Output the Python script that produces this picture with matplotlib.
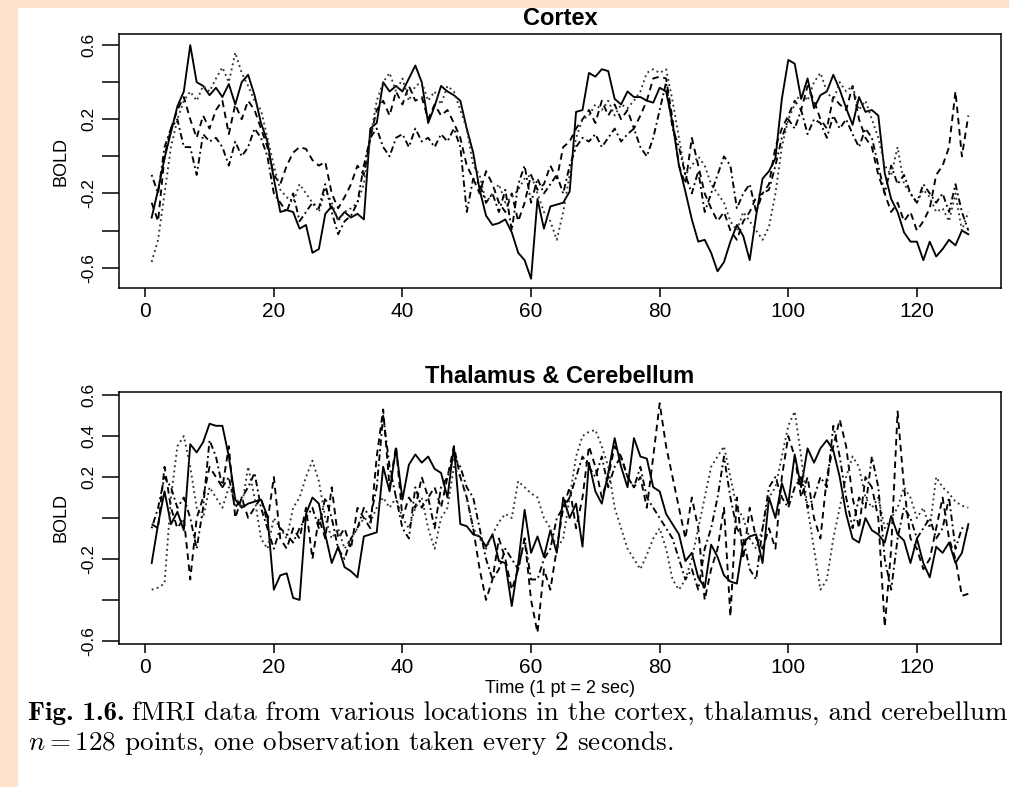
import numpy as np
import matplotlib
matplotlib.use('Agg')
import matplotlib.pyplot as plt
from matplotlib.patches import Rectangle

# ---------------- data ----------------
time = np.arange(1, 129)

cort1 = [-0.33, -0.18, -0.01, 0.13, 0.27, 0.35, 0.60, 0.40, 0.38, 0.33, 0.37, 0.32, 0.39, 0.28, 0.40, 0.44,
         0.33, 0.18, 0.08, -0.12, -0.30, -0.29, -0.30, -0.39, -0.37, -0.52, -0.50, -0.31, -0.27, -0.34, -0.30, -0.33,
         -0.31, -0.34, 0.15, 0.18, 0.40, 0.35, 0.38, 0.35, 0.42, 0.49, 0.40, 0.18, 0.27, 0.38, 0.35, 0.33,
         0.30, 0.15, 0.02, -0.18, -0.32, -0.37, -0.36, -0.34, -0.41, -0.52, -0.56, -0.66, -0.23, -0.39, -0.27, -0.26,
         -0.25, -0.19, 0.24, 0.25, 0.45, 0.43, 0.47, 0.46, 0.31, 0.28, 0.35, 0.32, 0.32, 0.30, 0.29, 0.37,
         0.35, 0.18, -0.05, -0.19, -0.34, -0.46, -0.45, -0.52, -0.62, -0.57, -0.46, -0.37, -0.43, -0.56, -0.32, -0.12,
         -0.08, -0.01, 0.31, 0.52, 0.50, 0.31, 0.42, 0.26, 0.33, 0.35, 0.44, 0.36, 0.26, 0.17, 0.32, 0.24,
         0.25, 0.22, -0.09, -0.23, -0.30, -0.41, -0.46, -0.46, -0.56, -0.46, -0.54, -0.50, -0.45, -0.48, -0.40, -0.42]
cort2 = [-0.25, -0.35, 0.00, 0.15, 0.25, 0.32, 0.20, 0.10, 0.22, 0.15, 0.25, 0.30, 0.12, 0.28, 0.20, 0.30,
         0.25, 0.15, 0.05, -0.10, -0.15, -0.05, 0.02, 0.05, 0.04, -0.02, -0.05, -0.03, -0.20, -0.28, -0.22, -0.15,
         -0.05, -0.10, 0.10, 0.25, 0.30, 0.22, 0.35, 0.28, 0.38, 0.30, 0.32, 0.20, 0.28, 0.22, 0.25, 0.18,
         0.10, -0.05, -0.12, -0.20, -0.08, -0.15, -0.25, -0.30, -0.20, -0.35, -0.25, -0.10, -0.18, -0.15, -0.05, -0.12,
         0.05, 0.08, 0.15, 0.20, 0.25, 0.18, 0.30, 0.22, 0.28, 0.20, 0.25, 0.15, 0.22, 0.30, 0.42, 0.43,
         0.42, 0.20, -0.05, -0.15, 0.10, -0.05, -0.20, -0.28, -0.35, -0.30, -0.40, -0.45, -0.35, -0.30, -0.22, -0.20,
         -0.15, 0.05, 0.15, 0.22, 0.30, 0.25, 0.38, 0.30, 0.20, 0.15, 0.32, 0.28, 0.25, 0.38, 0.20, 0.10,
         0.05, -0.10, -0.20, -0.30, -0.25, -0.35, -0.30, -0.40, -0.35, -0.28, -0.10, -0.05, 0.05, 0.35, 0.00, 0.22]
cort3 = [-0.57, -0.45, -0.20, 0.05, 0.20, 0.30, 0.35, 0.30, 0.38, 0.35, 0.42, 0.48, 0.40, 0.56, 0.45, 0.38,
         0.30, 0.25, 0.10, -0.05, -0.18, -0.22, -0.25, -0.15, -0.20, -0.25, -0.30, -0.18, -0.25, -0.35, -0.30, -0.28,
         -0.25, -0.15, 0.10, 0.30, 0.40, 0.45, 0.35, 0.42, 0.30, 0.38, 0.40, 0.30, 0.35, 0.28, 0.38, 0.35,
         0.25, 0.15, -0.05, -0.10, -0.25, -0.20, -0.15, -0.25, -0.22, -0.18, -0.12, -0.10, -0.20, -0.30, -0.35, -0.45,
         -0.30, -0.10, 0.10, 0.20, 0.22, 0.28, 0.25, 0.30, 0.22, 0.28, 0.26, 0.30, 0.35, 0.45, 0.47, 0.45,
         0.47, 0.30, 0.10, -0.10, -0.05, 0.00, -0.05, -0.15, -0.20, -0.25, -0.35, -0.40, -0.30, -0.35, -0.40, -0.45,
         -0.38, -0.20, 0.05, 0.20, 0.28, 0.35, 0.30, 0.40, 0.45, 0.35, 0.30, 0.40, 0.35, 0.38, 0.25, 0.30,
         0.20, 0.10, -0.05, -0.10, 0.05, -0.15, -0.20, -0.25, -0.18, -0.22, -0.30, -0.28, -0.35, -0.20, -0.40, -0.30]
cort4 = [-0.10, -0.20, 0.05, 0.15, 0.20, 0.05, 0.05, -0.10, 0.12, 0.08, 0.10, 0.05, -0.05, 0.08, 0.00, 0.05,
         0.15, 0.10, 0.00, -0.20, -0.25, -0.30, -0.20, -0.35, -0.30, -0.25, -0.28, -0.15, -0.30, -0.42, -0.35, -0.32,
         -0.25, -0.05, 0.10, 0.15, 0.05, 0.00, 0.10, 0.12, 0.05, 0.15, 0.08, 0.10, 0.05, 0.12, 0.08, 0.15,
         0.05, -0.30, -0.12, -0.15, -0.25, -0.20, -0.30, -0.18, -0.40, -0.15, -0.05, -0.25, -0.12, -0.20, -0.15, -0.10,
         -0.20, -0.05, 0.05, 0.10, 0.08, 0.12, 0.05, 0.10, 0.15, 0.08, 0.12, 0.15, 0.05, 0.00, 0.10, 0.25,
         0.40, 0.15, 0.05, -0.10, -0.20, -0.08, -0.30, -0.20, -0.10, 0.00, -0.05, -0.28, -0.20, -0.15, -0.30, -0.20,
         -0.18, -0.05, 0.10, 0.20, 0.15, 0.25, 0.12, 0.20, 0.18, 0.10, 0.22, 0.15, 0.20, 0.12, 0.05, 0.15,
         0.10, -0.05, -0.20, -0.05, -0.15, -0.10, -0.20, -0.25, -0.15, -0.20, -0.25, -0.20, -0.30, -0.15, -0.30, -0.40]

thal1 = [-0.22, -0.03, 0.13, -0.03, 0.03, -0.06, 0.36, 0.32, 0.37, 0.46, 0.45, 0.45, 0.30, 0.09, 0.05, 0.07,
         0.08, 0.09, 0.01, -0.35, -0.28, -0.27, -0.39, -0.40, 0.02, 0.10, 0.07, -0.08, -0.22, -0.14, -0.24, -0.26,
         -0.29, -0.09, -0.08, -0.07, 0.25, 0.13, 0.34, 0.09, 0.26, 0.31, 0.27, 0.30, 0.24, 0.22, 0.10, 0.35,
         -0.03, -0.04, -0.08, -0.09, -0.14, -0.08, -0.21, -0.22, -0.43, -0.22, 0.04, -0.17, -0.09, -0.19, -0.06, -0.17,
         0.10, 0.00, 0.07, -0.14, 0.27, 0.13, 0.07, 0.22, 0.39, 0.25, 0.15, 0.39, 0.30, 0.29, 0.15, 0.13,
         0.02, -0.03, -0.08, -0.21, -0.17, -0.29, -0.34, -0.13, -0.19, -0.28, -0.31, -0.32, -0.12, -0.09, -0.08, -0.22,
         0.10, 0.00, 0.17, 0.07, 0.31, 0.15, 0.34, 0.27, 0.34, 0.38, 0.33, 0.20, 0.02, -0.10, -0.12, 0.00,
         -0.06, -0.08, -0.12, 0.01, -0.08, -0.11, -0.22, -0.10, -0.22, -0.29, -0.14, -0.17, -0.12, -0.22, -0.17, -0.03]
thal2 = [-0.03, -0.05, 0.25, 0.05, -0.05, 0.00, -0.30, 0.00, 0.10, 0.25, 0.20, 0.15, 0.35, 0.00, 0.10, 0.00,
         0.05, 0.10, -0.02, 0.20, -0.10, -0.15, -0.05, -0.10, 0.05, -0.20, 0.00, -0.10, 0.15, -0.10, -0.05, -0.15,
         0.05, 0.00, -0.05, 0.30, 0.53, 0.15, 0.35, 0.00, 0.10, 0.05, 0.20, 0.10, 0.15, 0.05, 0.20, 0.35,
         0.20, 0.10, -0.05, -0.25, -0.40, -0.30, -0.10, -0.20, -0.35, -0.25, -0.10, -0.40, -0.56, -0.25, -0.35, -0.15,
         0.05, 0.15, -0.05, 0.10, 0.35, 0.25, 0.10, 0.20, 0.35, 0.30, 0.20, 0.15, 0.20, 0.05, 0.30, 0.56,
         0.35, 0.20, 0.05, -0.10, 0.10, -0.05, -0.40, -0.25, -0.15, 0.05, -0.48, 0.10, -0.20, 0.05, -0.10, -0.15,
         -0.05, -0.15, 0.20, 0.40, 0.30, 0.10, 0.20, 0.00, -0.10, 0.20, 0.35, 0.48, 0.35, 0.10, -0.05, 0.20,
         0.15, 0.00, -0.53, -0.15, 0.52, 0.15, -0.10, -0.15, -0.25, -0.20, -0.05, 0.10, -0.10, -0.20, -0.38, -0.37]
cere1 = [-0.35, -0.34, -0.32, 0.10, 0.35, 0.40, 0.25, 0.05, 0.00, 0.15, 0.10, 0.05, 0.15, 0.10, 0.05, 0.25,
         0.10, -0.10, -0.15, 0.00, -0.05, -0.10, 0.05, 0.10, 0.20, 0.28, 0.18, 0.00, -0.10, -0.05, -0.15, -0.10,
         -0.05, 0.00, -0.02, 0.05, 0.10, 0.05, 0.10, 0.00, -0.05, 0.05, 0.10, -0.05, -0.15, 0.00, 0.05, 0.25,
         0.20, 0.10, -0.05, -0.10, -0.15, -0.08, -0.02, 0.02, 0.00, 0.18, 0.15, 0.12, 0.10, 0.00, -0.05, -0.15,
         -0.10, 0.10, 0.30, 0.40, 0.42, 0.43, 0.35, 0.25, 0.05, -0.05, -0.15, -0.20, -0.25, -0.18, -0.10, -0.05,
         -0.15, -0.30, -0.35, -0.30, -0.20, -0.05, 0.10, 0.25, 0.30, 0.35, 0.20, 0.05, 0.00, -0.10, -0.15, -0.05,
         0.10, 0.15, 0.30, 0.45, 0.52, 0.30, 0.05, -0.15, -0.35, -0.30, -0.10, 0.05, 0.20, 0.30, 0.25, 0.10,
         0.05, 0.10, -0.05, 0.00, 0.05, 0.15, 0.10, 0.00, 0.05, -0.05, 0.20, 0.15, 0.12, 0.08, 0.06, 0.05]
cere2 = [-0.05, 0.05, 0.20, 0.15, 0.05, 0.10, 0.00, -0.15, 0.05, 0.38, 0.30, 0.15, 0.20, 0.05, 0.10, 0.15,
         0.22, 0.05, -0.05, -0.15, -0.05, -0.08, -0.12, -0.05, 0.00, 0.05, -0.05, 0.10, 0.00, -0.15, -0.20, -0.10,
         -0.05, 0.05, 0.00, 0.15, 0.50, 0.25, 0.10, -0.05, -0.10, 0.15, 0.05, 0.10, -0.05, 0.15, 0.20, 0.30,
         0.25, 0.15, 0.10, -0.05, -0.20, -0.30, -0.25, -0.15, -0.20, -0.25, -0.10, -0.30, -0.30, -0.20, -0.15, 0.00,
         0.05, 0.10, 0.20, 0.30, 0.25, 0.20, 0.30, 0.15, 0.25, 0.30, 0.20, 0.15, 0.25, 0.10, 0.05, 0.00,
         -0.05, -0.10, -0.20, -0.30, -0.25, -0.35, -0.15, -0.05, 0.10, 0.30, 0.10, -0.05, -0.10, -0.25, -0.30, -0.05,
         0.15, 0.20, 0.10, 0.05, 0.15, 0.20, 0.05, 0.10, 0.20, 0.15, 0.45, 0.30, 0.10, -0.05, 0.10, 0.05,
         0.30, 0.15, -0.20, -0.35, -0.10, 0.05, 0.00, -0.10, -0.05, 0.00, -0.10, -0.05, 0.10, -0.15, -0.05, -0.05]

xticks = [0, 20, 40, 60, 80, 100, 120]
yticks = [-0.6, -0.4, -0.2, 0.0, 0.2, 0.4, 0.6]
ylabels_top = ['-0.6', '', '-0.2', '', '0.2', '', '0.6']
ylabels_bot = ['-0.6', '', '-0.2', '', '0.2', '0.4', '0.6']
titles = ['Cortex', 'Thalamus & Cerebellum']

for s in (cort1, cort2, cort3, cort4, thal1, thal2, cere1, cere2):
    if len(s) != 128:
        raise ValueError(f'series length {len(s)}')

# ---------------- figure ----------------
plt.rcParams['font.family'] = ['Liberation Sans', 'DejaVu Sans']
plt.rcParams['mathtext.fontset'] = 'cm'

W, H = 1009, 787
fig = plt.figure(figsize=(W / 100, H / 100), dpi=100, facecolor='#fde3cc')
fig.patches.append(Rectangle((18 / W, 0), 1, 1 - 8 / H, transform=fig.transFigure,
                             facecolor='white', edgecolor='none', zorder=-5))


def px_axes(l, t, r, b):
    return [l / W, 1 - b / H, (r - l) / W, (b - t) / H]


ax1 = fig.add_axes(px_axes(119, 34, 1001, 288))
ax2 = fig.add_axes(px_axes(119, 392, 1001, 644))

styles = ['-', (0, (3.5, 2.5)), (0, (1, 1.8)), (0, (1, 1.8, 3.5, 1.8))]
colors = ['black', 'black', '#333333', 'black']

for ax, group, ylab, title, ylim in (
        (ax1, (cort1, cort2, cort3, cort4), ylabels_top, titles[0], (-0.71, 0.66)),
        (ax2, (thal1, thal2, cere1, cere2), ylabels_bot, titles[1], (-0.615, 0.615))):
    for s, ls, c in zip(group, styles, colors):
        ax.plot(time, s, linestyle=ls, color=c, lw=1.35)
    ax.set_xlim(-4.08, 133.08)
    ax.set_ylim(*ylim)
    ax.set_xticks(xticks)
    ax.set_xticklabels([str(v) for v in xticks])
    ax.set_yticks(yticks)
    ax.set_yticklabels(ylab)
    ax.tick_params(axis='x', length=6.5, width=1.1, pad=3.5, labelsize=15)
    ax.tick_params(axis='y', length=12.5, width=1.1, pad=4, labelsize=12.5, labelrotation=90)
    for lab in ax.get_yticklabels():
        lab.set_va('center')
    for sp in ax.spines.values():
        sp.set_linewidth(1.1)
    ax.set_title(title, fontweight='bold', fontsize=17, pad=6.5)
    ax.set_ylabel('BOLD', fontsize=13)
    ax.yaxis.set_label_coords((61 - 119) / 882, 0.5)
    ax.yaxis.label.set_verticalalignment('center')

ax2.set_xlabel('Time (1 pt = 2 sec)', fontsize=13)
ax2.xaxis.set_label_coords(0.5, (644 - 680) / 252)

# caption
cap_size = 19.5
renderer = fig.canvas.get_renderer()
y1 = 1 - 720 / H
y2 = 1 - 750 / H
t_bold = fig.text(28 / W, y1, "Fig. 1.6.", family='cmb10', fontsize=cap_size,
                  ha='left', va='baseline')
bb = t_bold.get_window_extent(renderer=renderer)
fig.text((bb.x1 + 7) / W, y1,
         "fMRI data from various locations in the cortex, thalamus, and cerebellum",
         family='cmr10', fontsize=cap_size, ha='left', va='baseline')
fig.text(28 / W, y2, r"$n = 128$ points, one observation taken every 2 seconds.",
         family='cmr10', fontsize=cap_size, ha='left', va='baseline')

fig.savefig('out.png', dpi=100, facecolor=fig.get_facecolor())
